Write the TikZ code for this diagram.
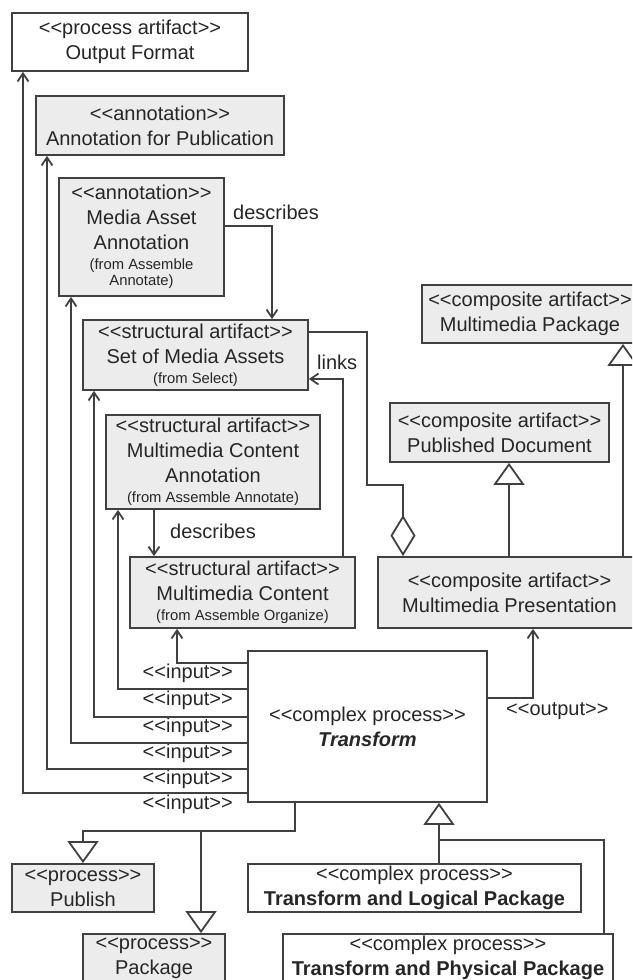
\documentclass[tikz,border=0pt]{standalone}
\usepackage{fontspec}
\setmainfont{Liberation Sans}
\usetikzlibrary{arrows.meta}

\newcommand\stereo[1]{<{}<#1>{}>}
\newcommand\srcnote[1]{{\fontsize{14.8}{17}\selectfont #1}}

\tikzset{
  box/.style={rectangle, draw=black!75, line width=1.8pt, inner sep=0pt,
    align=center, text=black!85, font=\fontsize{20}{25}\selectfont},
  greybox/.style={box, fill=gray!15},
  whitebox/.style={box, fill=white},
  lbl/.style={inner sep=0pt, text=black!85, font=\fontsize{20}{25}\selectfont},
  link/.style={draw=black!75, line width=1.8pt},
  arr/.style={link, -{Straight Barb[length=8pt,width=11pt]}},
  gen/.style={link, -{Triangle[open,length=22pt,width=31pt]}},
  agg/.style={link, -{Diamond[open,length=41pt,width=25pt]}}
}

\begin{document}
\begin{tikzpicture}[x=1pt,y=-1pt]
  \useasboundingbox (0,0) rectangle (632,980);
  \clip (0,0) rectangle (632,980);
  %% Draw the artifacts
  \node[whitebox, minimum width=236pt, minimum height=58pt] (OutFmt) at (130,42)
    {\stereo{process artifact}\\Output Format};
  \node[greybox, minimum width=248pt, minimum height=59pt] (AnnPub) at (160,125.5)
    {\stereo{annotation}\\Annotation for Publication};
  \node[greybox, minimum width=165pt, minimum height=118pt] (MAA) at (141.5,237)
    {\stereo{annotation}\\Media Asset\\Annotation\\[-5pt]\srcnote{(from Assemble}\\[-9pt]\srcnote{Annotate)}};
  \node[greybox, minimum width=225pt, minimum height=70pt] (SMA) at (195.5,355)
    {\stereo{structural artifact}\\Set of Media Assets\\[-5pt]\srcnote{(from Select)}};
  \node[greybox, minimum width=214pt, minimum height=94pt] (MCA) at (213,462)
    {\stereo{structural artifact}\\Multimedia Content\\Annotation\\[-5pt]\srcnote{(from Assemble Annotate)}};
  \node[greybox, minimum width=225pt, minimum height=71pt] (MC) at (242.5,592.5)
    {\stereo{structural artifact}\\Multimedia Content\\[-5pt]\srcnote{(from Assemble Organize)}};
  \node[greybox, minimum width=216pt, minimum height=58pt] (MPkg) at (530,314)
    {\stereo{composite artifact}\\Multimedia Package};
  \node[greybox, minimum width=219pt, minimum height=59pt] (PubDoc) at (499.5,432.5)
    {\stereo{composite artifact}\\Published Document};
  \node[greybox, minimum width=263pt, minimum height=71pt] (MPres) at (509.5,592.5)
    {\stereo{composite artifact}\\Multimedia Presentation};
  %% Draw the processes
  \node[whitebox, minimum width=239pt, minimum height=151pt] (Tr) at (367.5,726.5)
    {\stereo{complex process}\\\textbf{\textit{Transform}}};
  \node[greybox, minimum width=142pt, minimum height=48pt] (Pub) at (83,888)
    {\stereo{process}\\Publish};
  \node[greybox, minimum width=142pt, minimum height=48pt] (Pkg) at (154,958)
    {\stereo{process}\\Package};
  \node[whitebox, minimum width=333pt, minimum height=48pt] (TLP) at (414.5,888)
    {\stereo{complex process}\\\textbf{Transform and Logical Package}};
  \node[whitebox, minimum width=330pt, minimum height=48pt] (TPP) at (448,958)
    {\stereo{complex process}\\\textbf{Transform and Physical Package}};
  %% Draw the labels
  \node[lbl, anchor=base east] (in1) at (233,678) {\stereo{input}};
  \node[lbl, anchor=base east] (in2) at (233,705) {\stereo{input}};
  \node[lbl, anchor=base east] (in3) at (233,732) {\stereo{input}};
  \node[lbl, anchor=base east] (in4) at (233,758) {\stereo{input}};
  \node[lbl, anchor=base east] (in5) at (233,784) {\stereo{input}};
  \node[lbl, anchor=base east] (in6) at (233,809) {\stereo{input}};
  \node[lbl, anchor=base west] (out) at (506,715) {\stereo{output}};
  \node[lbl, anchor=base west] (desc1) at (233,219) {describes};
  \node[lbl, anchor=base west] (desc2) at (170,538) {describes};
  \node[lbl, anchor=base west] (links) at (317,369) {links};
  %% Draw the edges
  \draw[arr] (Tr.west |- 0,663) -| (MC.south -| 177,0);
  \draw[arr] (Tr.west |- 0,689) -| (MCA.south -| 118,0);
  \draw[arr] (Tr.west |- 0,717) -| (SMA.south -| 94,0);
  \draw[arr] (Tr.west |- 0,743) -| (MAA.south -| 71,0);
  \draw[arr] (Tr.west |- 0,769) -| (AnnPub.south -| 47,0);
  \draw[arr] (Tr.west |- 0,793) -| (OutFmt.south -| 23,0);
  \draw[arr] (Tr.east |- 0,698) -| (MPres.south -| 533,0);
  \draw[arr] (MAA.east |- 0,226) -| (SMA.north -| 272,0);
  \draw[arr] (MCA.south -| 154,0) -- (MC.north -| 154,0);
  \draw[arr] (MC.north -| 343,0) |- (SMA.east |- 0,379);
  \coordinate (bend) at (367,485);
  \draw[agg] (SMA.east |- 0,332) -| (bend) -| (MPres.north -| 403,0);
  \draw[gen] (MPres.north -| 509,0) -- (PubDoc.south -| 509,0);
  \draw[gen] (MPres.north -| 623,0) -- (MPkg.south -| 623,0);
  \coordinate (fork) at (201,831);
  \draw[gen] (Tr.south -| 295,0) |- (Pub.north |- fork) -- (Pub.north);
  \draw[gen] (fork) -- (Pkg.north -| fork);
  \coordinate (merge) at (439,840);
  \draw[gen] (TLP.north -| merge) -- (Tr.south -| merge);
  \draw[link] (TPP.north -| 604,0) |- (merge);
\end{tikzpicture}
\end{document}
